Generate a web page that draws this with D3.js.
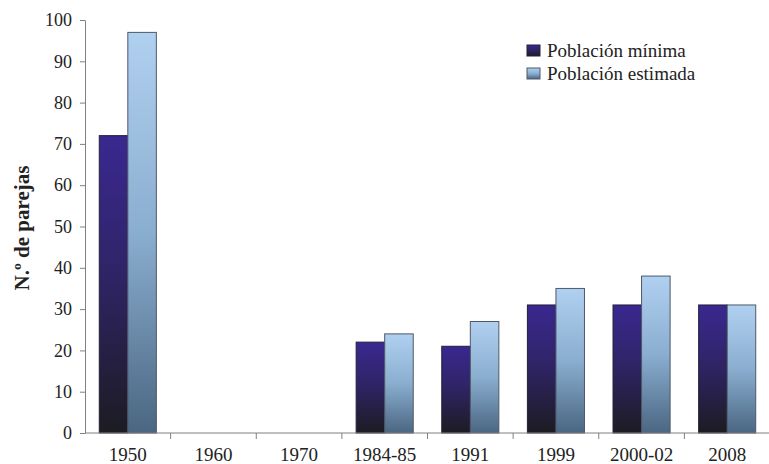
<!DOCTYPE html>
<html><head><meta charset="utf-8">
<script src="https://cdn.jsdelivr.net/npm/d3@7"></script>
<style>body{margin:0;background:#fff}svg{display:block}</style>
</head><body>
<svg id="c" width="769" height="464"></svg>
<script>
const categories = ["1950","1960","1970","1984-85","1991","1999","2000-02","2008"];
const minima    = [72, null, null, 22, 21, 31, 31, 31];
const estimada  = [97, null, null, 24, 27, 35, 38, 31];
const seriesNames = ["Población mínima","Población estimada"];
const yTicks = [0,10,20,30,40,50,60,70,80,90,100];

const FONT = '"Liberation Serif","Times New Roman",serif';
const svg = d3.select("#c");
const M = {left:85, right:770, top:20, bottom:433};
const x = d3.scaleBand().domain(categories).range([M.left, M.right]).paddingInner(0).paddingOuter(0);
const y = d3.scaleLinear().domain([0,100]).range([M.bottom, M.top]);
const inner = d3.scaleBand().domain([0,1]).range([0, x.bandwidth()]).paddingOuter(0.5).paddingInner(0);

const defs = svg.append("defs");
const g1 = defs.append("linearGradient").attr("id","gDark").attr("x1",0).attr("y1",0).attr("x2",0).attr("y2",1);
g1.append("stop").attr("offset","0%").attr("stop-color","#3a2890");
g1.append("stop").attr("offset","45%").attr("stop-color","#302468");
g1.append("stop").attr("offset","100%").attr("stop-color","#1c1c22");
const g2 = defs.append("linearGradient").attr("id","gLight").attr("x1",0).attr("y1",0).attr("x2",0).attr("y2",1);
g2.append("stop").attr("offset","0%").attr("stop-color","#b0d0f0");
g2.append("stop").attr("offset","50%").attr("stop-color","#8aaed0");
g2.append("stop").attr("offset","100%").attr("stop-color","#4a6682");

// bars
const data = [];
categories.forEach((c,i)=>{
  if (minima[i]!=null) data.push({c, s:0, v:minima[i]});
  if (estimada[i]!=null) data.push({c, s:1, v:estimada[i]});
});
svg.append("g").selectAll("rect").data(data).join("rect")
  .attr("x", d=>x(d.c)+inner(d.s))
  .attr("y", d=>y(d.v))
  .attr("width", inner.bandwidth())
  .attr("height", d=>y(0)-y(d.v))
  .attr("fill", d=>d.s===0?"url(#gDark)":"url(#gLight)")
  .attr("stroke", d=>d.s===0?"#22203a":"#505868")
  .attr("stroke-width", 1);

// y axis
const ya = svg.append("g").attr("transform",`translate(${M.left},0)`)
  .call(d3.axisLeft(y).tickValues(yTicks).tickSize(5).tickSizeOuter(0).tickPadding(8));
ya.attr("font-family", null);
ya.select(".domain").attr("stroke","#808080");
ya.selectAll(".tick line").attr("stroke","#808080");
ya.selectAll("text").attr("font-size",18).attr("fill","#222").style("font-family",FONT);

// x axis
const xa = svg.append("g").attr("transform",`translate(0,${M.bottom})`);
xa.append("line").attr("x1",M.left).attr("x2",M.right).attr("y1",0).attr("y2",0).attr("stroke","#808080");
const bounds = categories.map(c=>x(c)).slice(1);
xa.selectAll("line.t").data(bounds).join("line").attr("class","t")
  .attr("x1",d=>d).attr("x2",d=>d).attr("y1",0).attr("y2",6).attr("stroke","#808080");
xa.selectAll("text").data(categories).join("text")
  .attr("x", d=>x(d)+x.bandwidth()/2).attr("y", 28)
  .attr("text-anchor","middle").attr("font-size",19).attr("fill","#222")
  .style("font-family",FONT)
  .text(d=>d);

// y label
svg.append("text").attr("transform","translate(29,228) rotate(-90)")
  .attr("text-anchor","middle").attr("font-size",21).attr("font-weight","bold").attr("fill","#222")
  .style("font-family",FONT)
  .text("N.º de parejas");

// legend
const lg = svg.append("g").attr("transform","translate(527,45)");
seriesNames.forEach((n,i)=>{
  const row = lg.append("g").attr("transform",`translate(0,${i*23})`);
  row.append("rect").attr("width",13).attr("height",11)
    .attr("fill", i===0?"url(#gDark)":"url(#gLight)").attr("stroke", i===0?"#22203a":"#505868");
  row.append("text").attr("x",20).attr("y",12).attr("font-size",19).attr("fill","#222")
    .style("font-family",FONT).text(n);
});
</script>
</body></html>
